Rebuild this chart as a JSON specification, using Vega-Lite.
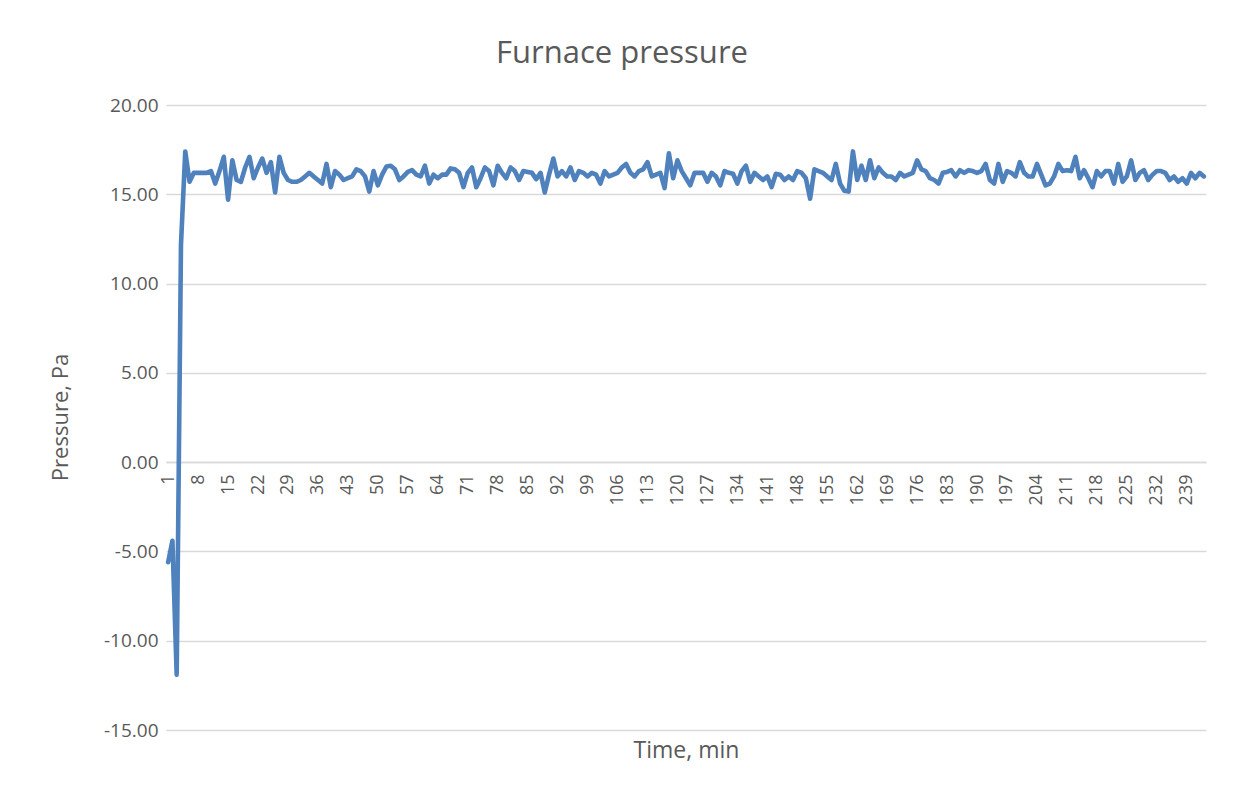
{
  "$schema": "https://vega.github.io/schema/vega-lite/v6.json",
  "width": 1040,
  "height": 625,
  "autosize": {"type": "none"},
  "padding": {"left": 166, "top": 105, "right": 27, "bottom": 66},
  "background": "white",
  "title": {"text": "Furnace pressure", "fontSize": 31, "font": "Open Sans", "fontWeight": "normal", "color": "#595959", "anchor": "middle", "dx": -64, "offset": 26},
  "data": {"values": [
    {"t":1,"p":-5.6},{"t":2,"p":-4.4},{"t":3,"p":-11.9},{"t":4,"p":12.2},{"t":5,"p":17.4},{"t":6,"p":15.7},{"t":7,"p":16.2},{"t":8,"p":16.2},{"t":9,"p":16.2},{"t":10,"p":16.2},
    {"t":11,"p":16.3},{"t":12,"p":15.6},{"t":13,"p":16.3},{"t":14,"p":17.1},{"t":15,"p":14.7},{"t":16,"p":16.9},{"t":17,"p":15.8},{"t":18,"p":15.7},{"t":19,"p":16.5},{"t":20,"p":17.1},
    {"t":21,"p":15.9},{"t":22,"p":16.5},{"t":23,"p":17.0},{"t":24,"p":16.2},{"t":25,"p":16.8},{"t":26,"p":15.1},{"t":27,"p":17.1},{"t":28,"p":16.2},{"t":29,"p":15.8},{"t":30,"p":15.7},
    {"t":31,"p":15.7},{"t":32,"p":15.8},{"t":33,"p":16.0},{"t":34,"p":16.2},{"t":35,"p":16.0},{"t":36,"p":15.8},{"t":37,"p":15.6},{"t":38,"p":16.7},{"t":39,"p":15.4},{"t":40,"p":16.3},
    {"t":41,"p":16.1},{"t":42,"p":15.8},{"t":43,"p":15.9},{"t":44,"p":16.0},{"t":45,"p":16.4},{"t":46,"p":16.3},{"t":47,"p":16.0},{"t":48,"p":15.15},{"t":49,"p":16.3},{"t":50,"p":15.5},
    {"t":51,"p":16.1},{"t":52,"p":16.55},{"t":53,"p":16.6},{"t":54,"p":16.4},{"t":55,"p":15.8},{"t":56,"p":16.0},{"t":57,"p":16.25},{"t":58,"p":16.35},{"t":59,"p":16.1},{"t":60,"p":16.0},
    {"t":61,"p":16.6},{"t":62,"p":15.6},{"t":63,"p":16.1},{"t":64,"p":15.9},{"t":65,"p":16.1},{"t":66,"p":16.1},{"t":67,"p":16.45},{"t":68,"p":16.4},{"t":69,"p":16.2},{"t":70,"p":15.4},
    {"t":71,"p":16.2},{"t":72,"p":16.5},{"t":73,"p":15.4},{"t":74,"p":15.9},{"t":75,"p":16.5},{"t":76,"p":16.3},{"t":77,"p":15.5},{"t":78,"p":16.6},{"t":79,"p":16.2},{"t":80,"p":15.9},
    {"t":81,"p":16.5},{"t":82,"p":16.3},{"t":83,"p":15.8},{"t":84,"p":16.3},{"t":85,"p":16.25},{"t":86,"p":16.2},{"t":87,"p":15.85},{"t":88,"p":16.2},{"t":89,"p":15.1},{"t":90,"p":16.1},
    {"t":91,"p":17.0},{"t":92,"p":16.0},{"t":93,"p":16.3},{"t":94,"p":16.0},{"t":95,"p":16.5},{"t":96,"p":15.8},{"t":97,"p":16.3},{"t":98,"p":16.2},{"t":99,"p":16.0},{"t":100,"p":16.2},
    {"t":101,"p":16.1},{"t":102,"p":15.6},{"t":103,"p":16.3},{"t":104,"p":16.0},{"t":105,"p":16.1},{"t":106,"p":16.2},{"t":107,"p":16.5},{"t":108,"p":16.7},{"t":109,"p":16.2},{"t":110,"p":16.0},
    {"t":111,"p":16.3},{"t":112,"p":16.4},{"t":113,"p":16.8},{"t":114,"p":16.0},{"t":115,"p":16.1},{"t":116,"p":16.2},{"t":117,"p":15.35},{"t":118,"p":17.3},{"t":119,"p":15.9},{"t":120,"p":16.9},
    {"t":121,"p":16.3},{"t":122,"p":15.9},{"t":123,"p":15.5},{"t":124,"p":16.2},{"t":125,"p":16.2},{"t":126,"p":16.2},{"t":127,"p":15.7},{"t":128,"p":16.2},{"t":129,"p":16.0},{"t":130,"p":15.5},
    {"t":131,"p":16.3},{"t":132,"p":16.2},{"t":133,"p":16.15},{"t":134,"p":15.6},{"t":135,"p":16.3},{"t":136,"p":16.6},{"t":137,"p":15.7},{"t":138,"p":16.2},{"t":139,"p":16.0},{"t":140,"p":15.8},
    {"t":141,"p":16.0},{"t":142,"p":15.4},{"t":143,"p":16.15},{"t":144,"p":16.1},{"t":145,"p":15.8},{"t":146,"p":16.0},{"t":147,"p":15.8},{"t":148,"p":16.3},{"t":149,"p":16.2},{"t":150,"p":15.9},
    {"t":151,"p":14.75},{"t":152,"p":16.4},{"t":153,"p":16.3},{"t":154,"p":16.2},{"t":155,"p":16.0},{"t":156,"p":15.8},{"t":157,"p":16.7},{"t":158,"p":15.6},{"t":159,"p":15.2},{"t":160,"p":15.15},
    {"t":161,"p":17.4},{"t":162,"p":15.8},{"t":163,"p":16.6},{"t":164,"p":15.8},{"t":165,"p":16.9},{"t":166,"p":15.9},{"t":167,"p":16.5},{"t":168,"p":16.2},{"t":169,"p":16.0},{"t":170,"p":16.0},
    {"t":171,"p":15.8},{"t":172,"p":16.2},{"t":173,"p":16.0},{"t":174,"p":16.1},{"t":175,"p":16.2},{"t":176,"p":16.9},{"t":177,"p":16.4},{"t":178,"p":16.3},{"t":179,"p":15.9},{"t":180,"p":15.8},
    {"t":181,"p":15.6},{"t":182,"p":16.2},{"t":183,"p":16.25},{"t":184,"p":16.35},{"t":185,"p":16.0},{"t":186,"p":16.35},{"t":187,"p":16.2},{"t":188,"p":16.35},{"t":189,"p":16.3},{"t":190,"p":16.2},
    {"t":191,"p":16.3},{"t":192,"p":16.7},{"t":193,"p":15.8},{"t":194,"p":15.6},{"t":195,"p":16.7},{"t":196,"p":15.7},{"t":197,"p":16.3},{"t":198,"p":16.2},{"t":199,"p":16.0},{"t":200,"p":16.8},
    {"t":201,"p":16.2},{"t":202,"p":16.0},{"t":203,"p":16.0},{"t":204,"p":16.7},{"t":205,"p":16.1},{"t":206,"p":15.5},{"t":207,"p":15.6},{"t":208,"p":16.0},{"t":209,"p":16.7},{"t":210,"p":16.3},
    {"t":211,"p":16.35},{"t":212,"p":16.3},{"t":213,"p":17.1},{"t":214,"p":15.9},{"t":215,"p":16.35},{"t":216,"p":15.9},{"t":217,"p":15.4},{"t":218,"p":16.3},{"t":219,"p":16.0},{"t":220,"p":16.3},
    {"t":221,"p":16.3},{"t":222,"p":15.6},{"t":223,"p":16.7},{"t":224,"p":15.7},{"t":225,"p":16.0},{"t":226,"p":16.9},{"t":227,"p":15.8},{"t":228,"p":16.2},{"t":229,"p":16.35},{"t":230,"p":15.8},
    {"t":231,"p":16.1},{"t":232,"p":16.3},{"t":233,"p":16.3},{"t":234,"p":16.2},{"t":235,"p":15.8},{"t":236,"p":16.0},{"t":237,"p":15.7},{"t":238,"p":15.9},{"t":239,"p":15.6},{"t":240,"p":16.2},
    {"t":241,"p":15.9},{"t":242,"p":16.2},{"t":243,"p":16.0}
  ]},
  "mark": {"type": "line", "color": "#4f81bd", "strokeWidth": 4.6, "strokeJoin": "round", "strokeCap": "round"},
  "encoding": {
    "x": {
      "field": "t", "type": "quantitative",
      "scale": {"domain": [0.5, 243.5], "nice": false, "zero": false},
      "axis": {
        "values": [1,8,15,22,29,36,43,50,57,64,71,78,85,92,99,106,113,120,127,134,141,148,155,162,169,176,183,190,197,204,211,218,225,232,239],
        "title": "Time, min",
        "offset": -268,
        "grid": false,
        "ticks": false,
        "domainColor": "#d9d9d9",
        "domainWidth": 1.5,
        "labelAngle": -90,
        "labelAlign": "right",
        "labelBaseline": "middle",
        "labelPadding": 12,
        "labelFlush": false,
        "labelOverlap": false,
        "labelColor": "#595959",
        "labelFontSize": 18,
        "labelFont": "Open Sans",
        "titleColor": "#595959",
        "titleFontSize": 23,
        "titleFont": "Open Sans",
        "titleFontWeight": "normal",
        "titleY": 288,
        "titleBaseline": "middle"
      }
    },
    "y": {
      "field": "p", "type": "quantitative",
      "scale": {"domain": [-15, 20], "nice": false, "zero": false},
      "axis": {
        "values": [-15,-10,-5,0,5,10,15,20],
        "labelExpr": "replace(format(datum.value, '.2f'), '\u2212', '-')",
        "domain": false,
        "ticks": false,
        "gridColor": "#d9d9d9",
        "gridWidth": 1.5,
        "labelPadding": 8,
        "labelColor": "#595959",
        "labelFontSize": 19,
        "labelFont": "Open Sans",
        "title": "Pressure, Pa",
        "titleColor": "#595959",
        "titleFontSize": 22,
        "titleFont": "Open Sans",
        "titleFontWeight": "normal",
        "titleX": -106,
        "titleY": 312,
        "titleAngle": -90,
        "titleBaseline": "middle",
        "titleAlign": "center"
      }
    }
  },
  "config": {"view": {"stroke": null}, "font": "Open Sans"}
}
